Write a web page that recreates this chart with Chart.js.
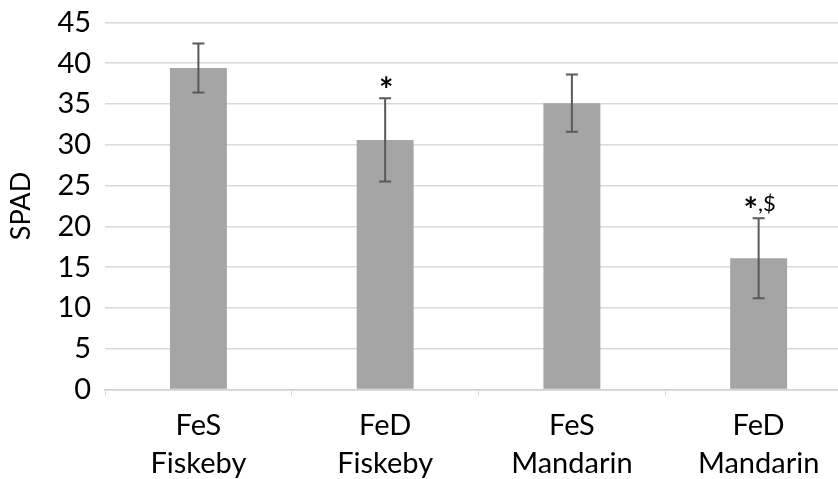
<!DOCTYPE html>
<html>
<head>
<meta charset="utf-8">
<script src="https://cdn.jsdelivr.net/npm/chart.js@4.4.0/dist/chart.umd.min.js"></script>
<style>
  html, body { margin: 0; padding: 0; background: #fff; overflow: hidden; }
  #wrap { width: 852px; height: 502px; margin-top: -9px; }
</style>
</head>
<body>
<div id="wrap"><canvas id="spad-chart"></canvas></div>
<script>
// categories and values
const categories = [['FeS', 'Fiskeby'], ['FeD', 'Fiskeby'], ['FeS', 'Mandarin'], ['FeD', 'Mandarin']];
const spadMeans = [39.4, 30.6, 35.1, 16.1];
const spadErrors = [3.0, 5.1, 3.5, 4.9];
const marks = ['', '*', '', '*,$'];

const fontFam = 'Lato, "Open Sans", sans-serif';

// draws the error bars and the significance marks above them
const errorBarPlugin = {
    id: 'errorBars',
    afterDatasetsDraw(chart) {
        const c = chart.ctx;
        const x = chart.scales.x;
        const y = chart.scales.y;
        c.save();
        c.strokeStyle = '#5a5a5a';
        c.lineWidth = 2;
        spadMeans.forEach((m, i) => {
            const px = x.getPixelForValue(i);
            const top = y.getPixelForValue(m + spadErrors[i]);
            const bot = y.getPixelForValue(m - spadErrors[i]);
            c.beginPath();
            c.moveTo(px, top); c.lineTo(px, bot);
            c.moveTo(px - 6, top); c.lineTo(px + 6, top);
            c.moveTo(px - 6, bot); c.lineTo(px + 6, bot);
            c.stroke();

            // significance mark, star centred ~16px above the cap
            const txt = marks[i];
            if (!txt) return;
            c.fillStyle = '#000';
            c.textBaseline = 'alphabetic';
            c.textAlign = 'left';
            const star = 'bold 34px ' + fontFam;
            const rest = '22px ' + fontFam;
            c.font = star;
            const mStar = c.measureText('*');
            const ws = mStar.width;
            c.font = rest;
            const wr = c.measureText(txt.slice(1)).width;
            const sx = px - (ws + wr) / 2 + 1;
            const starMid = (mStar.actualBoundingBoxAscent - mStar.actualBoundingBoxDescent) / 2;
            c.font = star;
            c.fillText('*', sx, top - 16 + starMid);
            c.font = rest;
            c.fillText(txt.slice(1), sx + ws, top - 7);
        });
        c.restore();
    }
};

const ctx = document.getElementById('spad-chart');

const config = {
    type: 'bar',
    data: {
        labels: categories,
        datasets: [{
            label: 'SPAD',
            data: spadMeans,
            backgroundColor: '#a5a5a5',
            barPercentage: 0.305,
            categoryPercentage: 1.0
        }]
    },
    options: {
        responsive: true,
        maintainAspectRatio: false,
        animation: false,
        layout: { padding: { top: 0, left: 5, right: 0, bottom: 0 } },
        plugins: {
            legend: { display: false },
            tooltip: { enabled: false }
        },
        scales: {
            x: {
                grid: {
                    display: true,
                    drawOnChartArea: false,
                    drawTicks: true,
                    tickLength: 6,
                    color: '#d9d9d9',
                    offset: true
                },
                border: { color: '#d0d0d0', width: 1.5 },
                ticks: {
                    color: '#000',
                    font: { family: fontFam, size: 29, lineHeight: 1.3 },
                    padding: 11,
                    maxRotation: 0
                }
            },
            y: {
                min: 0,
                max: 45,
                ticks: {
                    stepSize: 5,
                    color: '#000',
                    font: { family: fontFam, size: 29 },
                    padding: 14
                },
                grid: { color: '#d9d9d9', lineWidth: 1.5, drawTicks: false },
                border: { display: false },
                title: {
                    display: true,
                    text: 'SPAD',
                    color: '#000',
                    font: { family: fontFam, size: 27 },
                    padding: { top: 0, bottom: 6 }
                }
            }
        }
    },
    plugins: [errorBarPlugin]
};

const spadChart = new Chart(ctx, config);
</script>
</body>
</html>
